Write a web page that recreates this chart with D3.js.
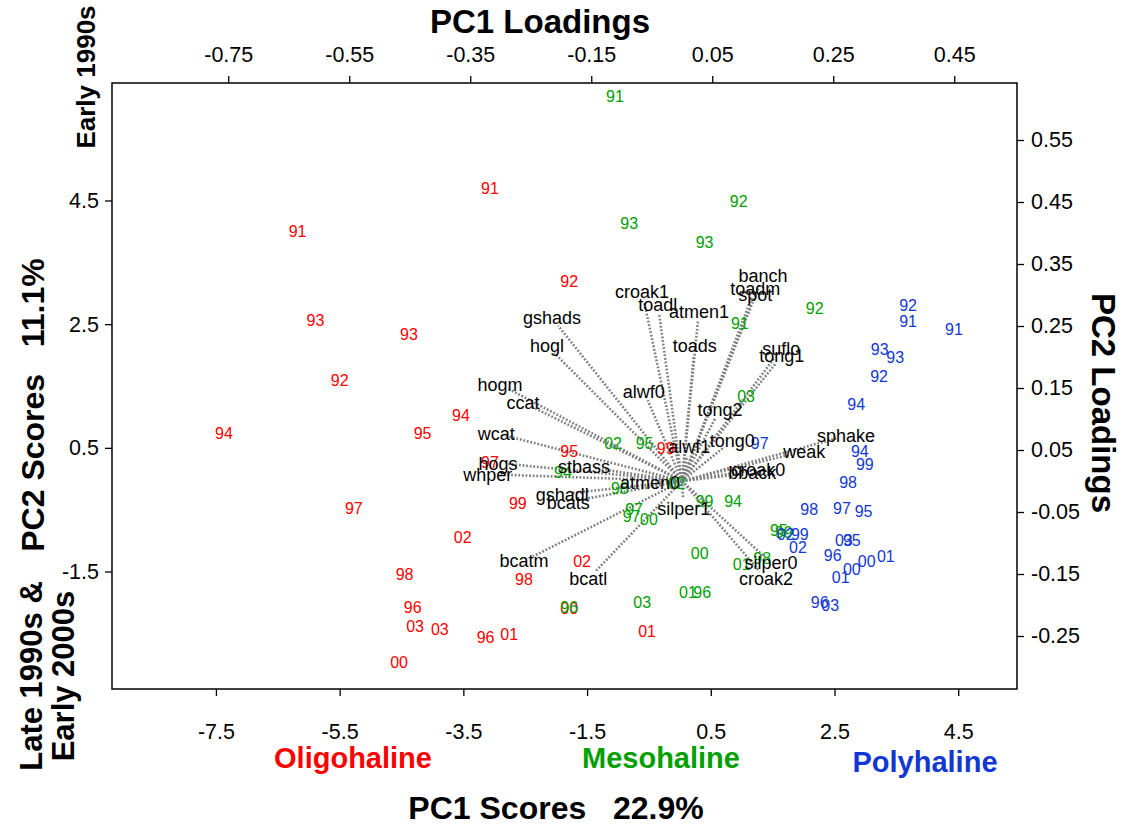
<!DOCTYPE html>
<html><head><meta charset="utf-8">
<script src="https://cdn.jsdelivr.net/npm/d3@7"></script>
<style>
body{margin:0;background:#fff;}
svg text{font-family:"Liberation Sans",Arial,Helvetica,sans-serif;}
</style></head>
<body><svg id="c" width="1128" height="825"></svg>
<script>
// ---- data ----
const regions = ["Oligohaline","Mesohaline","Polyhaline"];
const regionColors = ["#ff0000","#00a000","#1237d4"];
const oligoYears = ["91","91","92","93","93","92","94","94","95","95","99","97","97","99","02","02","98","98","96","96","03","03","01","01","00","00"];
const oligoPC1 = [-3.07,-6.18,-1.79,-5.89,-4.38,-5.50,-7.37,-3.54,-4.16,-1.79,-0.23,-3.07,-5.27,-2.62,-3.51,-1.58,-4.45,-2.52,-4.32,-3.14,-4.28,-3.88,-2.76,-0.53,-4.54,-1.79];
const oligoPC2 = [4.70,4.01,3.19,2.57,2.33,1.60,0.74,1.02,0.74,0.45,0.50,0.26,-0.47,-0.40,-0.95,-1.34,-1.54,-1.62,-2.07,-2.57,-2.38,-2.43,-2.51,-2.46,-2.96,-2.10];
const mesoYears = ["91","92","93","93","91","92","03","02","95","94","98","02","99","94","97","97","00","95","00","98","01","03","01","96","96","99"];
const mesoPC1 = [-1.05,0.95,-0.82,0.40,0.97,2.18,1.07,-1.08,-0.57,-1.89,-0.97,-0.05,0.40,0.86,-0.74,-0.78,-0.50,1.60,0.32,1.33,1.00,-0.61,0.13,0.36,-1.79,1.68];
const mesoPC2 = [6.19,4.48,4.14,3.82,2.51,2.76,1.33,0.57,0.58,0.11,-0.16,-0.08,-0.37,-0.37,-0.50,-0.60,-0.66,-0.84,-1.20,-1.28,-1.39,-2.00,-1.84,-1.84,-2.07,-0.86];
const polyYears = ["92","91","91","93","93","92","94","97","94","99","98","98","97","95","02","99","02","03","95","96","00","01","00","01","96","03"];
const polyPC1 = [3.69,3.69,4.43,3.23,3.48,3.22,2.85,1.29,2.91,2.99,2.72,2.09,2.62,2.97,1.71,1.94,1.91,2.65,2.78,2.47,3.02,3.33,2.78,2.60,2.26,2.43];
const polyPC2 = [2.80,2.55,2.41,2.09,1.97,1.65,1.20,0.58,0.45,0.23,-0.06,-0.50,-0.47,-0.52,-0.89,-0.89,-1.10,-1.00,-1.00,-1.23,-1.33,-1.26,-1.47,-1.60,-2.00,-2.05];
const species = ["banch","toadm","spot","croak1","toadl","atmen1","toads","suflo","tong1","gshads","hogl","alwf0","hogm","ccat","tong2","wcat","sphake","weak","tong0","alwf1","hogs","whper","stbass","croak0","bback","atmen0","gshadl","bcats","silper1","bcatm","bcatl","silper0","croak2"];
const loadPC1 = [0.134,0.121,0.121,-0.066,-0.040,0.028,0.021,0.164,0.165,-0.215,-0.223,-0.063,-0.301,-0.263,0.063,-0.307,0.271,0.202,0.083,0.012,-0.304,-0.321,-0.162,0.126,0.116,-0.053,-0.198,-0.188,0.003,-0.261,-0.155,0.147,0.139];
const loadPC2 = [0.331,0.311,0.300,0.305,0.285,0.274,0.218,0.213,0.202,0.263,0.218,0.145,0.156,0.127,0.116,0.077,0.073,0.048,0.065,0.056,0.029,0.011,0.023,0.019,0.013,-0.003,-0.021,-0.034,-0.044,-0.129,-0.158,-0.132,-0.158];
const scoreXTicks = [-7.5,-5.5,-3.5,-1.5,0.5,2.5,4.5];
const scoreYTicks = [-1.5,0.5,2.5,4.5];
const loadXTicks = [-0.75,-0.55,-0.35,-0.15,0.05,0.25,0.45];
const loadYTicks = [-0.25,-0.15,-0.05,0.05,0.15,0.25,0.35,0.45,0.55];

// ---- layout ----
const L=112,R=1017,T=83,B=689;
const svg=d3.select("#c");
const xS=d3.scaleLinear().domain([-9.18,5.45]).range([L,R]);
const yS=d3.scaleLinear().domain([-3.40,6.40]).range([B,T]);
const xL=d3.scaleLinear().domain([(L-682)/605,(R-682)/605]).range([L,R]);
const yL=d3.scaleLinear().domain([-(B-481)/620,(481-T)/620]).range([B,T]);

const font="Liberation Sans, Arial, Helvetica, sans-serif";
const fmt=p=>d=>d3.format(p)(d).replace("\u2212","-");
function styleAxis(g){
  g.selectAll("path.domain").remove();
  g.selectAll("line").attr("stroke","#000").attr("stroke-width",1.3);
  g.selectAll("text").attr("font-size",21.5).attr("fill","#000").attr("font-family",font);
}
svg.append("g").attr("transform",`translate(0,${B})`)
  .call(d3.axisBottom(xS).tickValues(scoreXTicks).tickFormat(fmt(".1f")).tickSize(7).tickPadding(28)).call(styleAxis);
svg.append("g").attr("transform",`translate(${L},0)`)
  .call(d3.axisLeft(yS).tickValues(scoreYTicks).tickFormat(fmt(".1f")).tickSize(7).tickPadding(6)).call(styleAxis);
svg.append("g").attr("transform",`translate(0,${T})`)
  .call(d3.axisTop(xL).tickValues(loadXTicks).tickFormat(fmt(".2f")).tickSize(7).tickPadding(14)).call(styleAxis);
svg.append("g").attr("transform",`translate(${R},0)`)
  .call(d3.axisRight(yL).tickValues(loadYTicks).tickFormat(fmt(".2f")).tickSize(7).tickPadding(7)).call(styleAxis);

// frame
svg.append("rect").attr("x",L).attr("y",T).attr("width",R-L).attr("height",B-T)
  .attr("fill","none").attr("stroke","#000").attr("stroke-width",1.5);

// loadings arrows (dotted)
const loads=species.map((s,i)=>({s,x:loadPC1[i],y:loadPC2[i]}));
const ox=xL(0), oy=yL(0);
svg.append("g").selectAll("line").data(loads).join("line")
  .attr("x1",ox).attr("y1",oy)
  .attr("x2",d=>{const dx=xL(d.x)-ox,dy=yL(d.y)-oy,len=Math.hypot(dx,dy);return ox+dx*(len-10)/len;})
  .attr("y2",d=>{const dx=xL(d.x)-ox,dy=yL(d.y)-oy,len=Math.hypot(dx,dy);return oy+dy*(len-10)/len;})
  .attr("stroke","#808080").attr("stroke-width",2.6).attr("stroke-dasharray","1.8,1.8");

// scores
const groups=[[oligoYears,oligoPC1,oligoPC2],[mesoYears,mesoPC1,mesoPC2],[polyYears,polyPC1,polyPC2]];
groups.forEach((g,gi)=>{
  const pts=g[0].map((y,i)=>({t:y,x:g[1][i],y:g[2][i]}));
  svg.append("g").selectAll("text").data(pts).join("text")
    .attr("x",d=>xS(d.x)).attr("y",d=>yS(d.y)).attr("dy","0.36em")
    .attr("text-anchor","middle").attr("font-size",16).attr("fill",regionColors[gi]).text(d=>d.t);
});

// loading labels
svg.append("g").selectAll("text").data(loads).join("text")
  .attr("x",d=>xL(d.x)).attr("y",d=>yL(d.y)).attr("dy","0.36em")
  .attr("text-anchor","middle").attr("font-size",18).attr("fill","#000").text(d=>d.s);

// titles
function t(x,y,txt,size,color,rot){
  const e=svg.append("text").attr("font-size",size).attr("font-weight","bold").attr("fill",color||"#000")
    .attr("text-anchor","middle").style("white-space","pre").text(txt);
  if(rot){e.attr("transform",`translate(${x},${y}) rotate(${rot})`);} else {e.attr("x",x).attr("y",y);}
  return e;
}
t(540,33,"PC1 Loadings",33);
t(556,819,"PC1 Scores   22.9%",32);
const regX=[353,661,925], regY=[768,768,772];
regions.forEach((r,i)=>t(regX[i],regY[i],r,29,regionColors[i]));
t(44,405,"PC2 Scores   11.1%",32,"#000",-90);
t(95,77,"Early 1990s",26,"#000",-90);
t(42,676,"Late 1990s &",31,"#000",-90);
t(74,676,"Early 2000s",31,"#000",-90);
t(1092,403,"PC2 Loadings",33,"#000",90);
</script></body></html>
